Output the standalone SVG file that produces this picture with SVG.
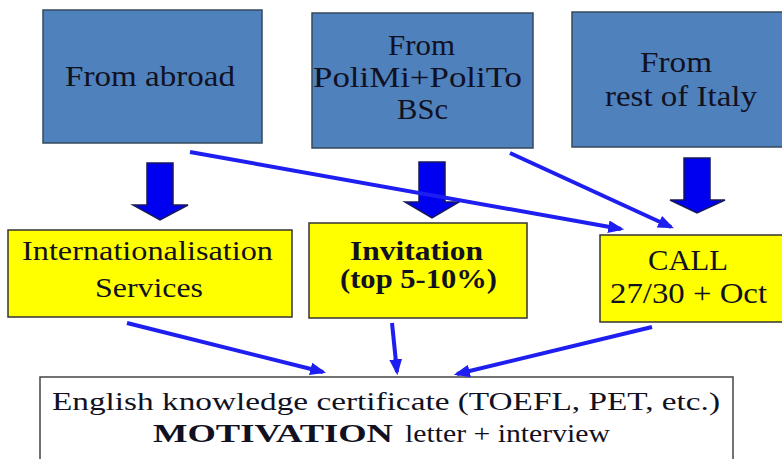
<svg xmlns="http://www.w3.org/2000/svg" width="782" height="459" viewBox="0 0 782 459" font-family="'Liberation Serif', Tinos, 'Times New Roman', Times, serif">
  <style>
    .src { fill: #4f81bd; stroke: #34495e; stroke-width: 1.5; }
    .mid { fill: #ffff00; stroke: #333333; stroke-width: 1.5; }
    .out { fill: #ffffff; stroke: #444444; stroke-width: 1.5; }
    .t { fill: #111122; }
    .big { font-size: 30px; }
    .med { font-size: 27px; }
    .sm { font-size: 26px; }
    .b { font-weight: bold; }
    .blk { fill: #0000f0; stroke: #1a1a5a; stroke-width: 1.5; }
    .ln { stroke: #1e1ef0; stroke-width: 4; fill: none; marker-end: url(#ah); }
  </style>
  <defs>
    <marker id="ah" viewBox="0 0 10 8" refX="8" refY="4" markerWidth="4" markerHeight="3.2" orient="auto" markerUnits="strokeWidth">
      <path d="M0,0 L10,4 L0,8 z" fill="#1e1ef0"/>
    </marker>
  </defs>
  <rect width="782" height="459" fill="#ffffff"/>

  <g id="from-abroad">
    <rect class="src" x="43" y="10" width="219" height="133"/>
    <text class="t big" x="65" y="86" textLength="170" lengthAdjust="spacingAndGlyphs">From abroad</text>
  </g>
  <g id="from-polimi">
    <rect class="src" x="312" y="13" width="221" height="135"/>
    <text class="t big" x="388" y="55" textLength="67" lengthAdjust="spacingAndGlyphs">From</text>
    <text class="t big" x="313" y="87" textLength="209" lengthAdjust="spacingAndGlyphs">PoliMi+PoliTo</text>
    <text class="t big" x="397" y="119" textLength="51" lengthAdjust="spacingAndGlyphs">BSc</text>
  </g>
  <g id="from-italy">
    <rect class="src" x="572" y="12" width="216" height="135"/>
    <text class="t big" x="640" y="72" textLength="72" lengthAdjust="spacingAndGlyphs">From</text>
    <text class="t big" x="605" y="106" textLength="152" lengthAdjust="spacingAndGlyphs">rest of Italy</text>
  </g>

  <g id="internationalisation">
    <rect class="mid" x="8" y="230" width="284" height="87"/>
    <text class="t med" x="22" y="260" textLength="251" lengthAdjust="spacingAndGlyphs">Internationalisation</text>
    <text class="t med" x="95" y="297" textLength="108" lengthAdjust="spacingAndGlyphs">Services</text>
  </g>
  <g id="invitation">
    <rect class="mid" x="309" y="223" width="218" height="95"/>
    <text class="t med b" x="350" y="260" textLength="133" lengthAdjust="spacingAndGlyphs">Invitation</text>
    <text class="t med b" x="340" y="288" textLength="157" lengthAdjust="spacingAndGlyphs">(top 5-10%)</text>
  </g>
  <g id="call">
    <rect class="mid" x="600" y="235" width="186" height="87"/>
    <text class="t big" x="648" y="270" textLength="80" lengthAdjust="spacingAndGlyphs">CALL</text>
    <text class="t big" x="610" y="303" textLength="157" lengthAdjust="spacingAndGlyphs">27/30 + Oct</text>
  </g>

  <g id="requirements">
    <rect class="out" x="40" y="377" width="693" height="95"/>
    <text class="t sm" x="52" y="410" textLength="668" lengthAdjust="spacingAndGlyphs">English knowledge certificate (TOEFL, PET, etc.)</text>
    <text class="t sm b" x="153" y="442" textLength="240" lengthAdjust="spacingAndGlyphs">MOTIVATION</text>
    <text class="t sm" x="405" y="442" textLength="205" lengthAdjust="spacingAndGlyphs">letter + interview</text>
  </g>

  <g id="connectors">
    <polygon class="blk" points="147,163 173,163 173,205 188,205 160,220 133,205 147,205"/>
    <polygon class="blk" points="419,162 445,162 445,202 459,202 432,218 405,202 419,202"/>
    <polygon class="blk" points="684,158 710,158 710,200 725,200 697,213 670,200 684,200"/>
    <line class="ln" x1="190" y1="152" x2="621" y2="229"/>
    <line class="ln" x1="510" y1="153" x2="671" y2="227"/>
    <line class="ln" x1="127" y1="323" x2="323" y2="372"/>
    <line class="ln" x1="392" y1="323" x2="397" y2="372"/>
    <line class="ln" x1="652" y1="327" x2="457" y2="374"/>
  </g>
</svg>
